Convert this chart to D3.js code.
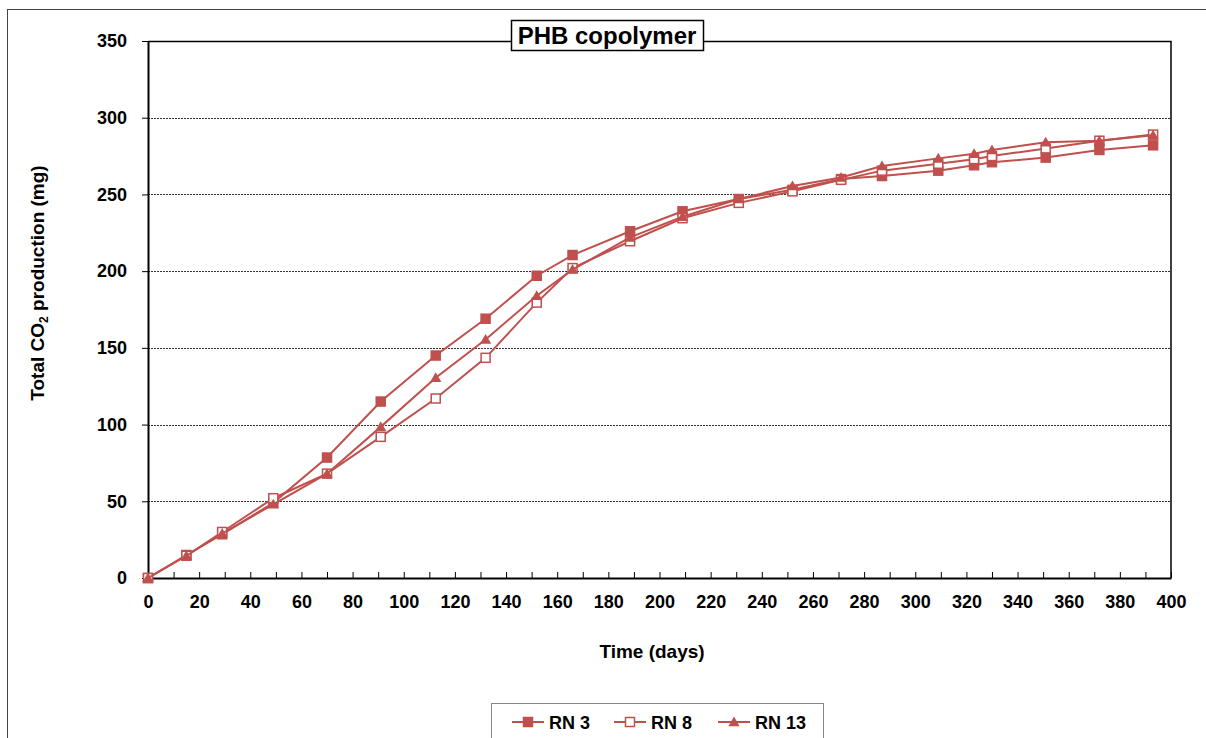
<!DOCTYPE html>
<html>
<head>
<meta charset="utf-8">
<script src="https://cdn.jsdelivr.net/npm/d3@7"></script>
<style>
  body { margin: 0; background: #fff; }
  svg { font-family: Arial, "Liberation Sans", sans-serif; font-weight: bold; }
</style>
</head>
<body>
<svg></svg>
<script>
const width = 1206;
const height = 738;
const margin = {top: 41, right: 35, bottom: 160, left: 148};
const color = '#C0504D';

// data
const days = [0, 15, 29, 49, 70, 91, 112.5, 132, 152, 166, 188.5, 209, 231, 252, 271, 287, 309, 323, 330, 351, 372, 393];
const rn3  = [0, 15, 28.5, 49, 78.5, 115, 145, 169, 197, 210.5, 226, 239, 247, 253, 260, 262, 265.5, 269, 271, 274, 279, 282];
const rn8  = [0, 14.5, 30, 52, 68, 92, 117, 143.5, 179.5, 202, 219.5, 234.5, 244.5, 252, 259.5, 265.5, 270, 273, 275, 280, 285, 289];
const rn13 = [0, 14.5, 29, 48, 68, 98.5, 130.5, 155.5, 184, 201, 222, 235.5, 247, 255.5, 261, 268.5, 273.5, 276.5, 279, 284, 285, 288.5];
const seriesNames = ['RN 3', 'RN 8', 'RN 13'];
const markers = ['square', 'open', 'triangle'];
const xMinorTicks = d3.range(0, 401, 10);
const yTicks = d3.range(0, 351, 50);

const series = [rn3, rn8, rn13].map((vals, i) => ({
    name: seriesNames[i],
    marker: markers[i],
    points: days.map((d, j) => ({x: d, y: vals[j]}))
}));

const svg = d3.select('svg').attr('width', width).attr('height', height);

// outer chart frame
svg.append('rect').attr('x', 7.5).attr('y', 9.5)
   .attr('width', width).attr('height', height)
   .attr('fill', 'none').attr('stroke', '#444').attr('stroke-width', 1);

//Setting up scales
const xScale = d3.scaleLinear().domain([0, 400]).range([margin.left, width - margin.right]);
const yScale = d3.scaleLinear().domain([0, 350]).range([height - margin.bottom, margin.top]);

// gridlines
svg.append('g').selectAll('line')
   .data(yTicks.filter(t => t > 0 && t < 350))
   .enter().append('line')
   .attr('x1', xScale(0)).attr('x2', xScale(400))
   .attr('y1', d => Math.round(yScale(d)) + 0.5).attr('y2', d => Math.round(yScale(d)) + 0.5)
   .attr('stroke', '#333').attr('stroke-width', 1).attr('stroke-dasharray', '2,1');

// top and right border of plot
svg.append('path')
   .attr('d', `M${xScale(0)},${yScale(350) + 0.5}H${xScale(400)}V${yScale(0)}`)
   .attr('fill', 'none').attr('stroke', '#000').attr('stroke-width', 1.5);

//Setting up axis
const xAxis = d3.axisBottom(xScale).tickValues(xMinorTicks).tickSize(-6).tickSizeOuter(0)
                .tickPadding(17).tickFormat(d => d % 20 === 0 ? d : '');
const yAxis = d3.axisLeft(yScale).tickValues(yTicks).tickSize(6).tickSizeOuter(0).tickPadding(15);

const gx = svg.append('g').attr('transform', `translate(0, ${yScale(0)})`).call(xAxis);
const gy = svg.append('g').attr('transform', `translate(${xScale(0)}, 0)`).call(yAxis);

[gx, gy].forEach(g => {
    g.select('.domain').attr('stroke', '#000').attr('stroke-width', 2);
    g.selectAll('.tick line').attr('stroke', '#000').attr('stroke-width', 1);
    g.selectAll('text').attr('font-family', 'Arial, "Liberation Sans", sans-serif')
     .attr('font-weight', 'bold').attr('font-size', 18).attr('fill', '#000');
});

// lines and markers
const line = d3.line().x(d => xScale(d.x)).y(d => yScale(d.y));

function drawMarker(g, type, cx, cy) {
    if (type === 'triangle') {
        g.append('path')
         .attr('d', d3.symbol(d3.symbolTriangle, 55)())
         .attr('transform', `translate(${cx},${cy + 1})`)
         .attr('fill', color);
    } else {
        g.append('rect')
         .attr('x', cx - 4.5).attr('y', cy - 4.5)
         .attr('width', 9).attr('height', 9)
         .attr('fill', type === 'open' ? '#fff' : color)
         .attr('stroke', color).attr('stroke-width', 1.5);
    }
}

series.forEach(s => {
    const g = svg.append('g');
    g.append('path').datum(s.points)
     .attr('d', line)
     .attr('fill', 'none').attr('stroke', color).attr('stroke-width', 2);
    s.points.forEach(p => drawMarker(g, s.marker, xScale(p.x), yScale(p.y)));
});

// title box
const titleBox = svg.append('g');
titleBox.append('rect').attr('x', 511.5).attr('y', 20.5).attr('width', 192).attr('height', 30)
        .attr('fill', '#fff').attr('stroke', '#000').attr('stroke-width', 1.5);
titleBox.append('text').attr('x', 607).attr('y', 44)
        .attr('text-anchor', 'middle').attr('font-size', 24)
        .text('PHB copolymer');

// axis titles
svg.append('text').attr('x', 652).attr('y', 658)
   .attr('text-anchor', 'middle').attr('font-size', 19)
   .text('Time (days)');

const yLabel = svg.append('text')
   .attr('transform', 'translate(44, 283) rotate(-90)')
   .attr('text-anchor', 'middle').attr('font-size', 19);
yLabel.append('tspan').text('Total CO');
yLabel.append('tspan').attr('font-size', 12).attr('dy', 4).text('2');
yLabel.append('tspan').attr('dy', -4).text(' production (mg)');

// legend
const legend = svg.append('g');
legend.append('rect').attr('x', 491.5).attr('y', 703.5).attr('width', 332).attr('height', 50)
      .attr('fill', '#fff').attr('stroke', '#888').attr('stroke-width', 1);
const legendX = [512, 614, 718];
series.forEach((s, i) => {
    const lx = legendX[i];
    const ly = 722;
    legend.append('line').attr('x1', lx).attr('x2', lx + 32).attr('y1', ly).attr('y2', ly)
          .attr('stroke', color).attr('stroke-width', 2);
    drawMarker(legend, s.marker, lx + 16, ly);
    legend.append('text').attr('x', lx + 37).attr('y', ly + 6.5)
          .attr('font-size', 18).text(s.name);
});
</script>
</body>
</html>
